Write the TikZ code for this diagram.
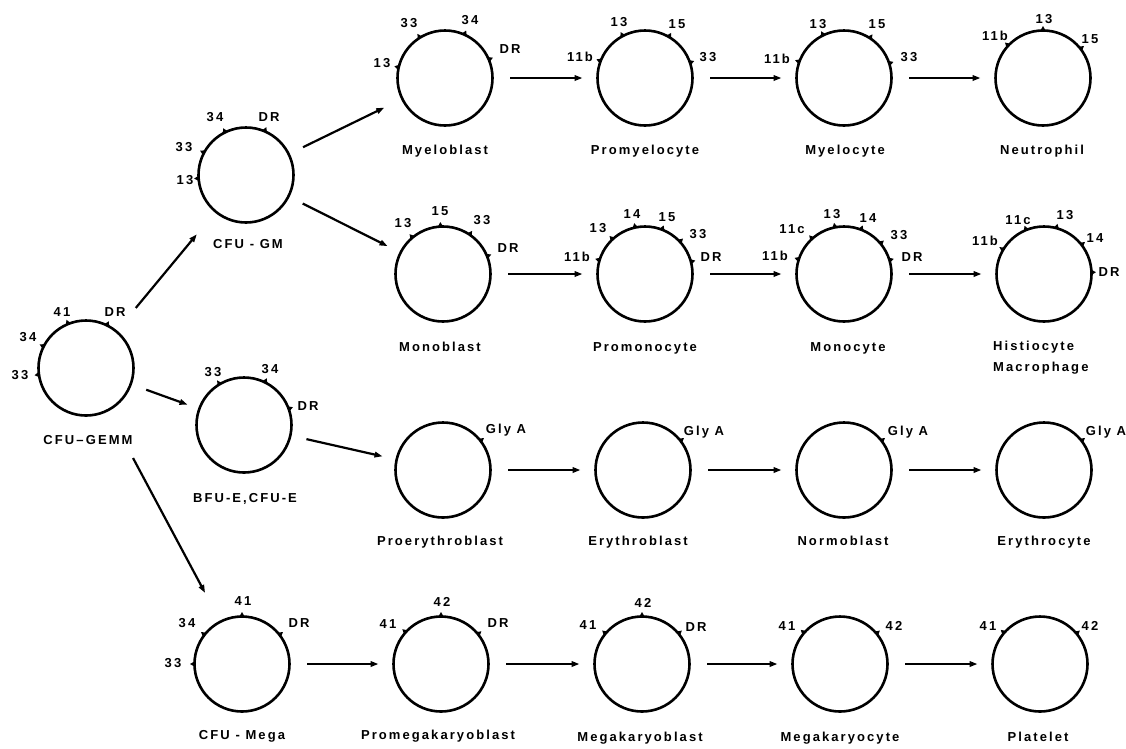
\documentclass[tikz,border=0pt]{standalone}
\usepackage{fontspec}
\setmainfont{Liberation Sans}
\newfontfamily\lbf{Liberation Sans}[LetterSpace=16]
\usetikzlibrary{arrows.meta,calc}
\tikzset{
  cell/.style={circle, draw, line width=2.6pt, minimum size=95pt, inner sep=0pt, outer sep=0pt},
  mlab/.style={font=\lbf\bfseries\fontsize{13}{15}\selectfont, inner sep=0pt, text height=9.3pt, text depth=0pt},
  clab/.style={mlab},
  arr/.style={line width=2.2pt, -{Triangle[length=8pt,width=5.5pt]}},
  harr/.style={arr, shorten <=17.5pt, shorten >=15pt}
}
\newcommand\tk[2]{\fill ([shift={(canvas polar cs:angle=#2+90,radius=2.6pt)}]#1.#2) -- ([shift={(canvas polar cs:angle=#2-90,radius=2.6pt)}]#1.#2) -- ([shift={(canvas polar cs:angle=#2,radius=4.5pt)}]#1.#2) -- cycle;}
\newcommand\mk[5]{\tk{#1}{#2}\node[mlab] (#1-a#2) at (#3,#4) {#5};}
\begin{document}
\begin{tikzpicture}[x=1pt,y=-1pt]
\useasboundingbox[fill=white] (0,0) rectangle (1126,748);
% cells
\node[cell] (gemm) at (86,368) {};
\node[cell] (gm) at (246,175) {};
\node[cell] (bfu) at (244,425) {};
\node[cell] (mega) at (242,664) {};
\node[cell] (myb) at (445,78) {};
\node[cell] (pmy) at (645,78) {};
\node[cell] (myc) at (844,78) {};
\node[cell] (neu) at (1043,78) {};
\node[cell] (mob) at (443,274) {};
\node[cell] (pmo) at (645,274) {};
\node[cell] (moc) at (844,274) {};
\node[cell] (his) at (1044,274) {};
\node[cell] (per) at (443,470) {};
\node[cell] (ery) at (643,470) {};
\node[cell] (nor) at (844,470) {};
\node[cell] (erc) at (1044,470) {};
\node[cell] (pmk) at (441,664) {};
\node[cell] (mkb) at (642,664) {};
\node[cell] (mkc) at (840,664) {};
\node[cell] (plt) at (1040,664) {};
% markers
\mk{gemm}{112}{62}{312}{41}
\mk{gemm}{64}{115}{312}{DR}
\mk{gemm}{153}{28}{337}{34}
\mk{gemm}{188}{20}{375}{33}
\mk{gm}{116}{215}{117}{34}
\mk{gm}{67}{269}{117}{DR}
\mk{gm}{152}{184}{147}{33}
\mk{gm}{184}{185}{180}{13}
\mk{myb}{122}{409}{23}{33}
\mk{myb}{66}{470}{20}{34}
\mk{myb}{23}{510}{49}{DR}
\mk{myb}{167}{382}{63}{13}
\mk{pmy}{159}{580}{57}{11b}
\mk{pmy}{118}{619}{22}{13}
\mk{pmy}{60}{677}{24}{15}
\mk{pmy}{19}{708}{57}{33}
\mk{myc}{160}{777}{59}{11b}
\mk{myc}{116}{818}{24}{13}
\mk{myc}{57}{877}{24}{15}
\mk{myc}{18}{909}{57}{33}
\mk{neu}{137}{995}{36}{11b}
\mk{neu}{90}{1044}{19}{13}
\mk{neu}{38}{1090}{39}{15}
\mk{mob}{130}{403}{223}{13}
\mk{mob}{93}{440}{211}{15}
\mk{mob}{56}{482}{220}{33}
\mk{mob}{22}{508}{248}{DR}
\mk{pmo}{163}{577}{257}{11b}
\mk{pmo}{133}{598}{228}{13}
\mk{pmo}{102}{632}{214}{14}
\mk{pmo}{69}{667}{217}{15}
\mk{pmo}{43}{698}{234}{33}
\mk{pmo}{15}{711}{257}{DR}
\mk{moc}{162}{775}{256}{11b}
\mk{moc}{132}{792}{229}{11c}
\mk{moc}{101}{832}{214}{13}
\mk{moc}{69}{868}{218}{14}
\mk{moc}{40}{899}{235}{33}
\mk{moc}{17}{912}{257}{DR}
\mk{his}{149}{985}{241}{11b}
\mk{his}{112}{1018}{220}{11c}
\mk{his}{75}{1065}{215}{13}
\mk{his}{38}{1095}{238}{14}
\mk{his}{2}{1109}{272}{DR}
\mk{bfu}{121}{213}{372}{33}
\mk{bfu}{64}{270}{369}{34}
\mk{bfu}{20}{308}{406}{DR}
\mk{per}{38}{506}{429}{Gly A}
\mk{ery}{38}{704}{431}{Gly A}
\mk{nor}{38}{908}{431}{Gly A}
\mk{erc}{38}{1106}{431}{Gly A}
\mk{mega}{90}{243}{601}{41}
\mk{mega}{142}{187}{623}{34}
\mk{mega}{38}{299}{623}{DR}
\mk{mega}{180}{173}{663}{33}
\mk{pmk}{90}{442}{602}{42}
\mk{pmk}{138}{388}{624}{41}
\mk{pmk}{39}{498}{623}{DR}
\mk{mkb}{90}{643}{603}{42}
\mk{mkb}{140}{588}{625}{41}
\mk{mkb}{40}{696}{627}{DR}
\mk{mkc}{139}{787}{626}{41}
\mk{mkc}{40}{894}{626}{42}
\mk{plt}{139}{988}{626}{41}
\mk{plt}{40}{1090}{626}{42}
% cell names
\node[clab] (l-gemm) at (88,440) {CFU\,–\,GEMM};
\node[clab] (l-gm) at (248,244) {CFU - GM};
\node[clab] (l-bfu) at (245,498) {BFU-E,CFU-E};
\node[clab] (l-mega) at (242,735) {CFU - Mega};
\node[clab] (l-myb) at (445,150) {Myeloblast};
\node[clab] (l-pmy) at (645,150) {Promyelocyte};
\node[clab] (l-myc) at (845,150) {Myelocyte};
\node[clab] (l-neu) at (1042,150) {Neutrophil};
\node[clab] (l-mob) at (440,347) {Monoblast};
\node[clab] (l-pmo) at (645,347) {Promonocyte};
\node[clab] (l-moc) at (848,347) {Monocyte};
\node[clab, anchor=west] (l-his) at (993,346) {Histiocyte};
\node[clab, anchor=west] (l-mac) at (993,367) {Macrophage};
\node[clab] (l-per) at (440,541) {Proerythroblast};
\node[clab] (l-ery) at (638,541) {Erythroblast};
\node[clab] (l-nor) at (843,541) {Normoblast};
\node[clab] (l-erc) at (1044,541) {Erythrocyte};
\node[clab] (l-pmk) at (438,735) {Promegakaryoblast};
\node[clab] (l-mkb) at (640,737) {Megakaryoblast};
\node[clab] (l-mkc) at (840,737) {Megakaryocyte};
\node[clab] (l-plt) at (1038,737) {Platelet};
% connectors
\draw[arr, shorten <=30.5pt, shorten >=29.5pt] (gemm) -- (gm);
\draw[arr, shorten <=16.5pt, shorten >=12.5pt] (gemm) -- (bfu);
\draw[arr, shorten <=54.1pt, shorten >=32.6pt] (gemm.-63) -- (mega.117);
\draw[arr, shorten <=16pt, shorten >=20pt] (gm) -- (myb);
\draw[arr, shorten <=16pt, shorten >=14.5pt] (gm) -- (mob);
\draw[arr, shorten <=16.5pt, shorten >=14.5pt] (bfu) -- (per);
\draw[harr] (myb) -- (pmy);
\draw[harr] (pmy) -- (myc);
\draw[harr] (myc) -- (neu);
\draw[harr] (mob) -- (pmo);
\draw[harr] (pmo) -- (moc);
\draw[harr] (moc) -- (his);
\draw[harr] (per) -- (ery);
\draw[harr] (ery) -- (nor);
\draw[harr] (nor) -- (erc);
\draw[harr] (mega) -- (pmk);
\draw[harr] (pmk) -- (mkb);
\draw[harr] (mkb) -- (mkc);
\draw[harr] (mkc) -- (plt);
\end{tikzpicture}
\end{document}
